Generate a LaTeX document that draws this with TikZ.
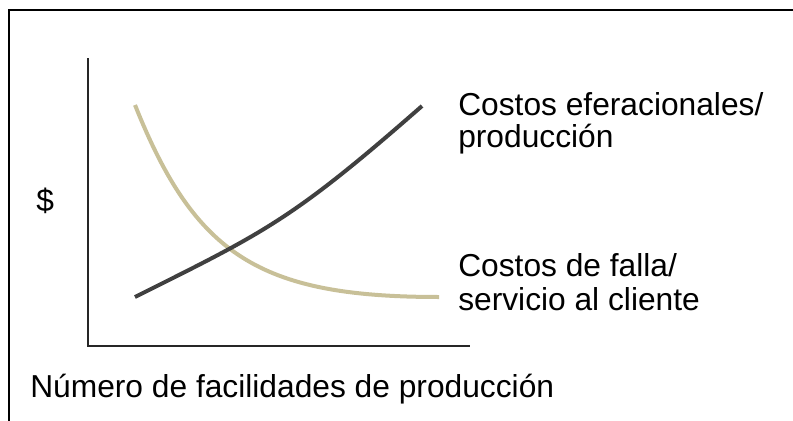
\documentclass[tikz,border=0pt]{standalone}
\usepackage{fontspec}
\setmainfont{Liberation Sans}
\definecolor{opgray}{RGB}{64,64,64}
\definecolor{failtan}{RGB}{200,192,152}
\begin{document}
\begin{tikzpicture}[x=0.75pt, y=-0.75pt,
	l/.style={font=\fontsize{23.8}{28}\selectfont, inner sep=0, anchor=base west}]
	\useasboundingbox (0,0) rectangle (793,421);
	\draw[line width=1.3pt] (9,421) -- (9,10) -- (793,10);

	% axes
	\draw[line width=2.2pt, black!85] (88,58) -- (88,346) -- (470,346);

	% curves
	\draw[line width=3pt, failtan] (135,105) .. controls (195,255) and (259,297) .. (439,297);
	\draw[line width=3pt, opgray] (135,297) .. controls (265,232) and (292,220) .. (422,106);

	\node[l] (dollar) at (36,211) {\$};
	\node[l] (op1) at (458,115) {Costos eferacionales/};
	\node[l] (op2) at (458,147) {producción};
	\node[l] (fail1) at (458,276) {Costos de falla/};
	\node[l] (fail2) at (458,310) {servicio al cliente};
	\node[l] (xlabel) at (30,397) {Número de facilidades de producción};
\end{tikzpicture}
\end{document}
